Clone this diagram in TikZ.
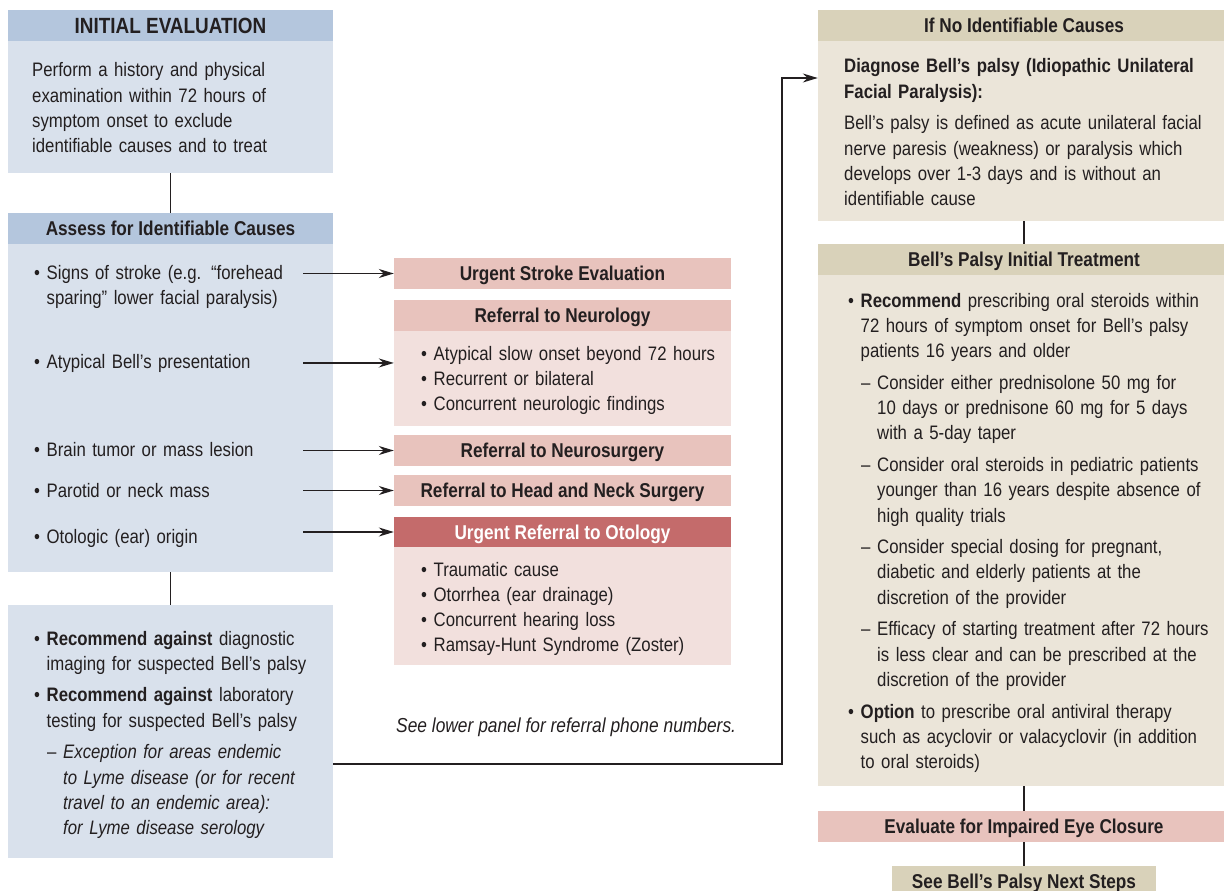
\documentclass[tikz,border=0pt]{standalone}
\usepackage{fontspec}
\setmainfont{Liberation Sans}[FakeStretch=0.86]
\usetikzlibrary{shapes}
\usetikzlibrary{arrows.meta}
\definecolor{ink}{HTML}{231F20}
\definecolor{blue_h}{HTML}{B4C6DD}
\definecolor{blue_b}{HTML}{D9E1EC}
\definecolor{pink_h}{HTML}{E8C3BD}
\definecolor{pink_b}{HTML}{F2E0DD}
\definecolor{red_h}{HTML}{C46B6B}
\definecolor{tan_h}{HTML}{D9D2BA}
\definecolor{tan_b}{HTML}{EBE5D9}
\newcommand{\bitem}[1]{\hangindent=12.5pt\hangafter=1\noindent\makebox[12.5pt][l]{\textbullet}#1\par}
\newcommand{\ditem}[1]{\hangindent=29pt\hangafter=1\noindent\hspace*{13pt}\makebox[16pt][l]{–}#1\par}
\tikzset{
	fc_node/.style = {rectangle, inner sep=0pt, align=center, text=ink,
		font=\fontsize{20}{25.3}\selectfont\bfseries, text height=15pt, text depth=1pt},
	fc_hb/.style = {fc_node, fill=blue_h, minimum height=31pt},% en-tete bleu
	fc_bb/.style = {fc_node, fill=blue_b},% corps bleu
	fc_hp/.style = {fc_node, fill=pink_h, minimum height=31pt},% en-tete rose
	fc_bp/.style = {fc_node, fill=pink_b},% corps rose
	fc_hr/.style = {fc_node, fill=red_h, text=white, minimum height=31pt},% en-tete rouge
	fc_ht/.style = {fc_node, fill=tan_h, minimum height=31pt},% en-tete beige
	fc_bt/.style = {fc_node, fill=tan_b},% corps beige
	fc_txt/.style = {anchor=base west, inner sep=0pt, align=left, text=ink,
		font=\fontsize{19.5}{25.3}\selectfont,
		execute at begin node={\setlength{\parskip}{6.3pt}}},% texte libre
	fc_lst/.style = {fc_txt, execute at begin node={\setlength{\parskip}{0pt}}},% liste serree
	fc_ln/.style = {draw=ink, line width=1.4pt},% trait
	w_l/.style = {minimum width=325pt},
	w_m/.style = {minimum width=337pt},
	w_r/.style = {minimum width=412pt}
}
\begin{document}
\begin{tikzpicture}[x=1pt, y=-1pt, >={Stealth[length=15pt,width=9pt]}]
	\useasboundingbox (0,0) rectangle (1224,891);
	% colonne gauche
	\node[fc_hb, w_l, font=\fontsize{22}{28}\selectfont\bfseries, text height=16pt] (ie_h) at (170.5,26) {INITIAL EVALUATION};
	\node[fc_bb, w_l, minimum height=132pt] (ie_b) at (170.5,107) {};
	\node[fc_txt, text width=295pt] (ie_t) at (32,77) {Perform a history and physical\newline
		examination within 72 hours of\newline symptom onset to exclude\newline identifiable causes and to treat};
	\node[fc_hb, w_l] (ac_h) at (170.5,228.5) {Assess for Identifiable Causes};
	\node[fc_bb, w_l, minimum height=328pt] (ac_b) at (170.5,408) {};
	\node[fc_txt, text width=269pt] (i_stroke) at (34,279) {\bitem{Signs of stroke (e.g. “forehead\newline sparing” lower facial paralysis)}};
	\node[fc_txt, text width=269pt] (i_atyp) at (34,368) {\bitem{Atypical Bell’s presentation}};
	\node[fc_txt, text width=269pt] (i_brain) at (34,456) {\bitem{Brain tumor or mass lesion}};
	\node[fc_txt, text width=269pt] (i_parot) at (34,497) {\bitem{Parotid or neck mass}};
	\node[fc_txt, text width=269pt] (i_oto) at (34,543) {\bitem{Otologic (ear) origin}};
	\node[fc_bb, w_l, minimum height=253pt] (ag_b) at (170.5,731.5) {};
	\node[fc_txt, text width=295pt] (ag_t) at (34,645) {\bitem{\textbf{Recommend against} diagnostic\newline imaging for suspected Bell’s palsy}
		\bitem{\textbf{Recommend against} laboratory\newline testing for suspected Bell’s palsy}
		\ditem{\textit{Exception for areas endemic\newline to Lyme disease (or for recent\newline travel to an endemic area):\newline for Lyme disease serology}}};
	% colonne du milieu
	\node[fc_hp, w_m] (us) at (562.5,273.5) {Urgent Stroke Evaluation};
	\node[fc_hp, w_m] (nr_h) at (562.5,315.5) {Referral to Neurology};
	\node[fc_bp, w_m, minimum height=95pt] (nr_b) at (562.5,378.5) {};
	\node[fc_lst, text width=305pt] (nr_t) at (421,360) {\bitem{Atypical slow onset beyond 72 hours}
		\bitem{Recurrent or bilateral}\bitem{Concurrent neurologic findings}};
	\node[fc_hp, w_m] (ns) at (562.5,450.5) {Referral to Neurosurgery};
	\node[fc_hp, w_m] (hn) at (562.5,490.5) {Referral to Head and Neck Surgery};
	\node[fc_hr, w_m] (ot_h) at (562.5,532) {Urgent Referral to Otology};
	\node[fc_bp, w_m, minimum height=118pt] (ot_b) at (562.5,606) {};
	\node[fc_lst, text width=305pt] (ot_t) at (421,576) {\bitem{Traumatic cause}\bitem{Otorrhea (ear drainage)}
		\bitem{Concurrent hearing loss}\bitem{Ramsay-Hunt Syndrome (Zoster)}};
	\node[fc_txt, font=\fontsize{20.2}{25.3}\selectfont\itshape] (note) at (396,732) {See lower panel for referral phone numbers.};
	% colonne droite
	\node[fc_ht, w_r] (nc_h) at (1024,26) {If No Identifiable Causes};
	\node[fc_bt, w_r, minimum height=180pt] (nc_b) at (1024,131) {};
	\node[fc_txt, text width=375pt] (nc_t) at (844,73) {\textbf{Diagnose Bell’s palsy (Idiopathic Unilateral\newline Facial Paralysis):}\par
		Bell’s palsy is defined as acute unilateral facial\newline nerve paresis (weakness) or paralysis which\newline
		develops over 1-3 days and is without an\newline identifiable cause};
	\node[fc_ht, w_r] (tr_h) at (1024,259.5) {Bell’s Palsy Initial Treatment};
	\node[fc_bt, w_r, minimum height=511pt] (tr_b) at (1024,530.5) {};
	\node[fc_txt, text width=370pt] (tr_t) at (848,307) {\bitem{\textbf{Recommend} prescribing oral steroids within\newline
		72 hours of symptom onset for Bell’s palsy\newline patients 16 years and older}
		\ditem{Consider either prednisolone 50 mg for\newline 10 days or prednisone 60 mg for 5 days\newline with a 5-day taper}
		\ditem{Consider oral steroids in pediatric patients\newline younger than 16 years despite absence of\newline high quality trials}
		\ditem{Consider special dosing for pregnant,\newline diabetic and elderly patients at the\newline discretion of the provider}
		\ditem{Efficacy of starting treatment after 72 hours\newline is less clear and can be prescribed at the\newline discretion of the provider}
		\bitem{\textbf{Option} to prescribe oral antiviral therapy\newline such as acyclovir or valacyclovir (in addition\newline to oral steroids)}};
	\node[fc_hp, w_r] (ev) at (1024,826.5) {Evaluate for Impaired Eye Closure};
	\node[fc_ht, minimum width=264pt] (nx) at (1024,881.5) {See Bell’s Palsy Next Steps};
	% liaisons
	\draw[fc_ln] (ie_b) -- (ac_h);
	\draw[fc_ln] (ac_b) -- (ag_b);
	\draw[fc_ln] (nc_b) -- (tr_h);
	\draw[fc_ln] (tr_b) -- (ev);
	\draw[fc_ln] (ev) -- (nx);
	\draw[fc_ln, ->] (us.west -| i_stroke.east) -- (us.west);
	\draw[fc_ln, ->] (i_atyp.east) -- (i_atyp.east -| nr_b.west);
	\draw[fc_ln, ->] (ns.west -| i_brain.east) -- (ns.west);
	\draw[fc_ln, ->] (hn.west -| i_parot.east) -- (hn.west);
	\draw[fc_ln, ->] (ot_h.west -| i_oto.east) -- (ot_h.west);
	\coordinate (turn) at (782,764);
	\draw[fc_ln, ->] ([yshift=-32.5pt]ag_b.east) -- (turn) |- ([yshift=53pt]nc_b.west);
\end{tikzpicture}
\end{document}
